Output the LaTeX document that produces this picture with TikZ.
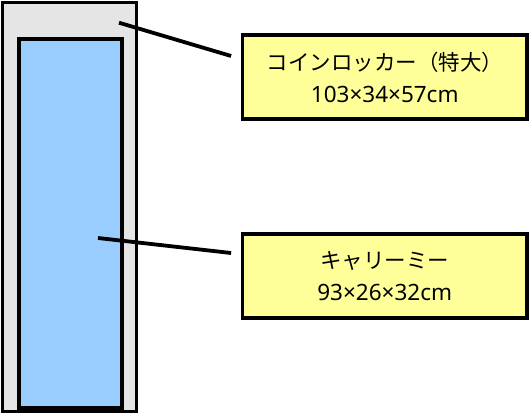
\documentclass[tikz,border=0pt]{standalone}
\usepackage{fontspec}
\setmainfont{Noto Sans CJK JP}
\newfontfamily\numfont{Noto Sans}
\newcommand{\sizetext}[1]{{\fontsize{22.5}{32}\selectfont\numfont #1}}
\usetikzlibrary{positioning,calc}

\begin{document}
\begin{tikzpicture}[
	x=1pt, y=-1pt,
	every node/.style={font=\fontsize{21.5}{32}\selectfont},
	locker/.style={draw, line width=3.8pt, fill=black!10, inner sep=0pt},
	bag/.style={draw, line width=3.8pt, fill={rgb,255:red,153;green,204;blue,255}, inner sep=0pt},
	label box/.style={draw, line width=3.8pt, fill={rgb,255:red,255;green,255;blue,153}, minimum width=284.5pt, minimum height=84pt, align=center, inner sep=0pt},
	pointer/.style={line width=3.8pt}
	]
	
	\useasboundingbox (0,0) rectangle (530,414);
	
	\node[locker, minimum width=134pt, minimum height=409pt] (locker) at (69.5,207) {};
	\node[bag, minimum width=103.5pt, minimum height=369.5pt] (bag) at (70.5,223.5) {};
	
	\node[label box] (lockerinfo) at (384.75,77.2) {コインロッカー（特大）\\\sizetext{103×34×57cm}};
	\node[label box] (baginfo) at (384.75,276) {キャリーミー\\\sizetext{93×26×32cm}};
	
	\coordinate (lockerpt) at (119,22.7);
	\coordinate (bagpt) at (98,238);
	
	\draw[pointer] (lockerpt) -- ($(lockerinfo.west)+(-9.5,-21.2)$);
	\draw[pointer] (bagpt) -- ($(baginfo.west)+(-9.5,-23)$);
	
\end{tikzpicture}
\end{document}
